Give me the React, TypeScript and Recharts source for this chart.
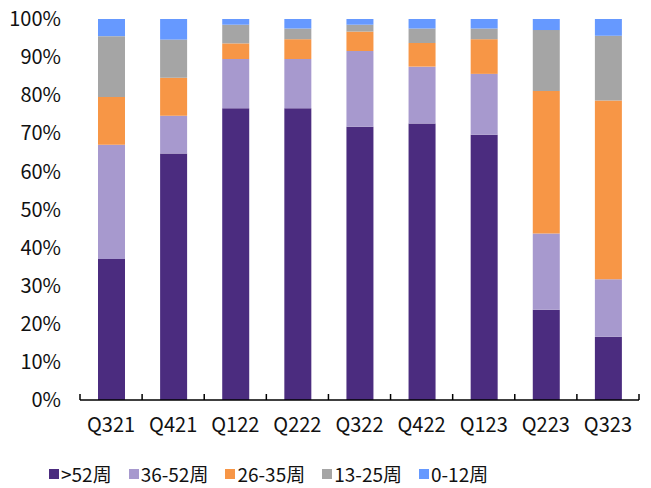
import { BarChart, Bar, XAxis, YAxis, Legend } from "recharts";

const quarters = ["Q321", "Q421", "Q122", "Q222", "Q322", "Q422", "Q123", "Q223", "Q323"];

const over52 = [37, 64.7, 76.6, 76.6, 71.7, 72.6, 69.6, 23.7, 16.6];
const w36to52 = [30, 9.9, 12.9, 12.9, 19.9, 14.9, 16, 20, 15.1];
const w26to35 = [12.5, 10, 4.1, 5.2, 5.1, 6.2, 9.1, 37.4, 46.9];
const w13to25 = [16, 10, 4.9, 2.8, 1.8, 3.8, 2.8, 16, 17];
const w0to12 = [4.5, 5.4, 1.5, 2.5, 1.5, 2.5, 2.5, 2.9, 4.4];

const yTicks = [0, 10, 20, 30, 40, 50, 60, 70, 80, 90, 100];

const series = [
  { key: "over52", name: ">52周", color: "#4B2C7F", values: over52 },
  { key: "w36to52", name: "36-52周", color: "#A799CE", values: w36to52 },
  { key: "w26to35", name: "26-35周", color: "#F79646", values: w26to35 },
  { key: "w13to25", name: "13-25周", color: "#A5A5A5", values: w13to25 },
  { key: "w0to12", name: "0-12周", color: "#6699FF", values: w0to12 },
];

const data = quarters.map((q, i) => {
  const row: Record<string, any> = { name: q };
  series.forEach((s) => (row[s.key] = s.values[i]));
  return row;
});

const FONT = '"Noto Sans CJK SC", "Noto Sans", sans-serif';

function QuarterTick({ x, y, payload, index }: any) {
  const off = payload?.offset ?? 0;
  const last = index === quarters.length - 1;
  return (
    <g>
      <line x1={x - off} x2={x - off} y1={y} y2={y - 6} stroke="#000" strokeWidth={1.5} />
      {last && <line x1={x + off} x2={x + off} y1={y} y2={y - 6} stroke="#000" strokeWidth={1.5} />}
      <text x={x} y={y + 18} dy="0.71em" textAnchor="middle" fontSize={20} fill="#111" fontFamily={FONT}>
        {payload.value}
      </text>
    </g>
  );
}

function LegendBox() {
  return (
    <div
      style={{
        display: "flex",
        boxSizing: "border-box",
        height: 36,
        paddingLeft: 41,
        paddingTop: 8,
        fontFamily: FONT,
        fontSize: 19,
        lineHeight: "26px",
        color: "#111",
      }}
    >
      {series.map((s) => (
        <div key={s.key} style={{ display: "flex", alignItems: "center", marginRight: 17 }}>
          <span style={{ width: 10, height: 10, background: s.color, display: "inline-block", marginRight: 2 }} />
          <span>{s.name}</span>
        </div>
      ))}
    </div>
  );
}

export default function App() {
  return (
    <div style={{ margin: "-8px 0 0 -8px", width: 651, height: 488 }}>
      <BarChart
        width={651}
        height={488}
        data={data}
        margin={{ top: 19, right: 12, left: 8, bottom: 0 }}
        barSize={27}
      >
        <XAxis
          dataKey="name"
          height={52}
          axisLine={{ stroke: "#000", strokeWidth: 1.5 }}
          tickLine={false}
          tickSize={0}
          tickMargin={0}
          interval={0}
          tick={<QuarterTick />}
        />
        <YAxis
          width={72}
          domain={[0, 100]}
          ticks={yTicks}
          tickFormatter={(v) => `${v}%`}
          axisLine={false}
          tickLine={false}
          tickSize={0}
          tickMargin={19}
          tick={{ fontSize: 20, fill: "#111", fontFamily: FONT }}
          interval={0}
        />
        <Legend verticalAlign="bottom" align="left" height={36} content={() => <LegendBox />} />
        {series.map((s) => (
          <Bar
            key={s.key}
            dataKey={s.key}
            name={s.name}
            stackId="a"
            fill={s.color}
            isAnimationActive={false}
          />
        ))}
      </BarChart>
    </div>
  );
}
